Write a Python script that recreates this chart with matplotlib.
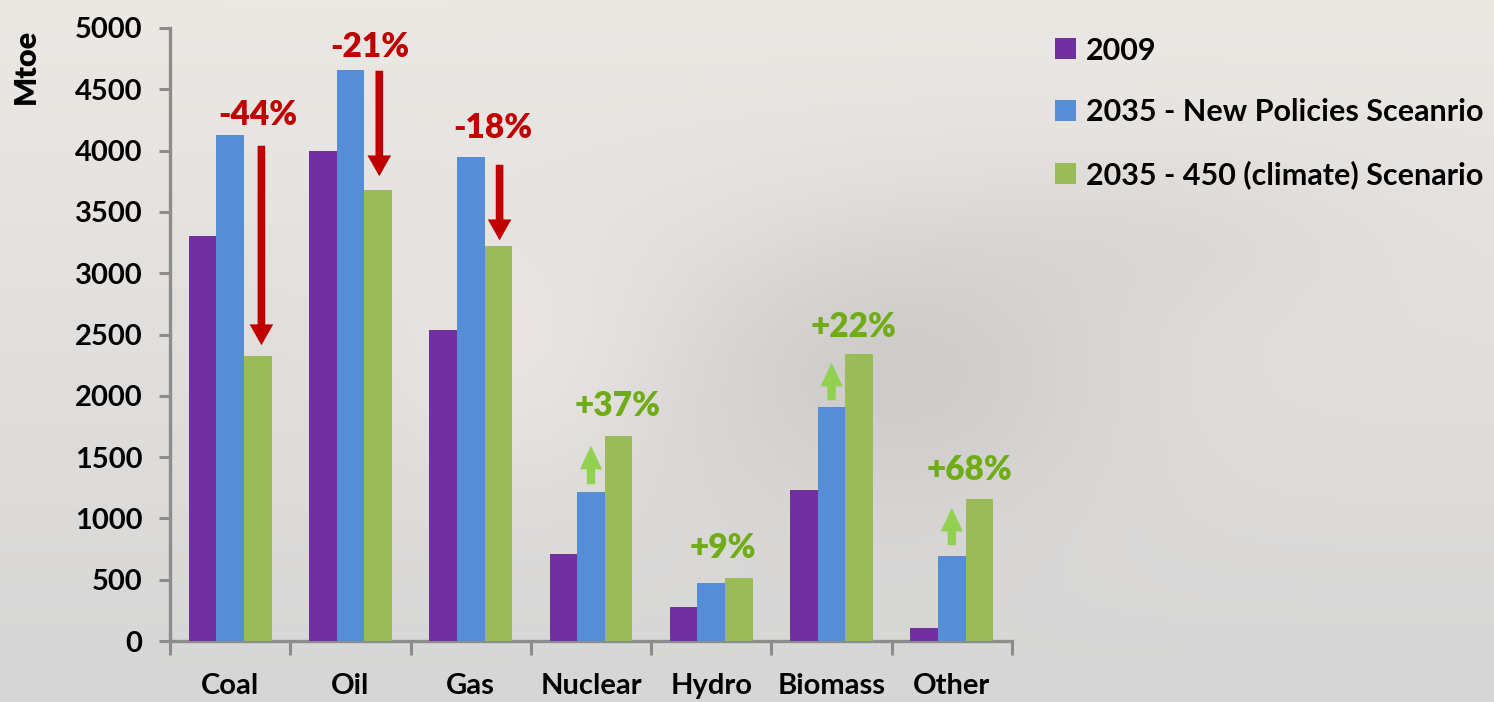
import numpy as np
import matplotlib
matplotlib.use("Agg")
import matplotlib.pyplot as plt
from matplotlib.patches import FancyArrowPatch, ArrowStyle

# --- data -----------------------------------------------------------------
categories = ["Coal", "Oil", "Gas", "Nuclear", "Hydro", "Biomass", "Other"]
series_names = ["2009", "2035 - New Policies Sceanrio", "2035 - 450 (climate) Scenario"]
demand_2009 = [3303, 3997, 2537, 710, 277, 1232, 106]
demand_2035_nps = [4127, 4657, 3948, 1215, 473, 1909, 690]
demand_2035_450 = [2325, 3679, 3222, 1672, 515, 2341, 1160]
change_labels = ["-44%", "-21%", "-18%", "+37%", "+9%", "+22%", "+68%"]
y_ticks = [0, 500, 1000, 1500, 2000, 2500, 3000, 3500, 4000, 4500, 5000]

# --- styling --------------------------------------------------------------
FONT = "Lato"
plt.rcParams["font.family"] = [FONT, "DejaVu Sans"]
plt.rcParams["font.weight"] = "bold"
colors = ["#7030a0", "#558ed5", "#9bbb59"]
RED = "#c00000"
GREEN_TXT = "#6fac16"
GREEN_ARROW = "#92d050"
AXIS_GREY = "#8c8c8c"

W, H, DPI = 1494, 702, 100
fig = plt.figure(figsize=(W / DPI, H / DPI), dpi=DPI)

# soft photographic-looking backdrop
bg = fig.add_axes([0, 0, 1, 1], zorder=-10)
yy, xx = np.mgrid[0:H, 0:W]
t = yy / H
base = np.empty((H, W, 3))
top = np.array([236, 232, 228]) / 255
bot = np.array([214, 214, 214]) / 255
for c in range(3):
    base[..., c] = top[c] * (1 - t) + bot[c] * t
blob = np.exp(-(((xx - 900) / 210) ** 2 + ((yy - 360) / 150) ** 2))
blob2 = np.exp(-(((xx - 1180) / 220) ** 2 + ((yy - 230) / 90) ** 2))
light = np.exp(-(((xx - 520) / 120) ** 2 + ((yy - 360) / 120) ** 2))
shade = 0.07 * blob + 0.03 * blob2 - 0.025 * light
img = np.clip(base - shade[..., None], 0, 1)
img[..., 0] = np.clip(img[..., 0] + 0.01 * light, 0, 1)
bg.imshow(img, aspect="auto", extent=[0, W, H, 0])
bg.axis("off")

ax = fig.add_axes([170 / W, 1 - 641 / H, (1012 - 170) / W, (641 - 28) / H])
ax.patch.set_alpha(0)

x = np.arange(len(categories))
bw = 0.23
for i, (vals, col, name) in enumerate(zip([demand_2009, demand_2035_nps, demand_2035_450], colors, series_names)):
    ax.bar(x + (i - 1) * bw, vals, width=bw, color=col, label=name, zorder=3)

ax.set_xlim(-0.5, len(categories) - 0.5)
ax.set_ylim(0, 5000)
ax.set_yticks(y_ticks)
ax.set_yticklabels([str(v) for v in y_ticks], fontsize=21, fontweight="bold")
ax.set_xticks(x)
ax.set_xticklabels(categories, fontsize=21, fontweight="bold")
ax.set_xticks(np.arange(-0.5, len(categories)), minor=True)
ax.tick_params(axis="x", which="major", length=0, pad=23)
ax.tick_params(axis="x", which="minor", length=10, width=2.2, color=AXIS_GREY, direction="out")
ax.tick_params(axis="y", length=8, width=2.2, color=AXIS_GREY, direction="out", pad=12)
for s in ["top", "right"]:
    ax.spines[s].set_visible(False)
for s in ["left", "bottom"]:
    ax.spines[s].set_color(AXIS_GREY)
    ax.spines[s].set_linewidth(2.4)

# percentage change annotations
label_pos = [(0.23, 4290), (1.16, 4845), (2.18, 4184), (3.22, 1917), (4.10, 759), (5.18, 2561), (6.15, 1395)]
for lab, (lx, ly) in zip(change_labels, label_pos):
    col = RED if lab.startswith("-") else GREEN_TXT
    ax.text(lx, ly, lab, color=col, fontsize=24, fontweight="heavy", ha="center", va="center", zorder=5)

# down arrows: from New Policies level towards 450 level
down = [(0, 0.26, 4062, 2390), (1, 0.24, 4674, 3768), (2, 0.24, 3907, 3246)]
red_style = ArrowStyle.Simple(head_length=1.5, head_width=1.7, tail_width=0.55)
for ci, off, y0, y1 in down:
    ax.add_patch(FancyArrowPatch((ci + off, y0), (ci + off, y1), arrowstyle=red_style,
                                 mutation_scale=10, color=RED, lw=0, zorder=4))

# up arrows above the New Policies bars
up = [(3, 0.0, 1256, 1615), (5, 0.0, 1941, 2292), (6, 0.0, 759, 1109)]
green_style = ArrowStyle.Simple(head_length=1.7, head_width=1.6, tail_width=0.6)
for ci, off, y0, y1 in up:
    ax.add_patch(FancyArrowPatch((ci + off, y0), (ci + off, y1), arrowstyle=green_style,
                                 mutation_scale=10, color=GREEN_ARROW, lw=0, zorder=4))

fig.text(25.5 / W, 1 - 66 / H, "Mtoe", rotation=90, fontsize=22, fontweight="heavy", ha="center", va="center")

fig.legend(loc="upper left", bbox_to_anchor=(1027 / W, 1 - 9 / H), frameon=False,
           handlelength=0.69, handleheight=0.69, handletextpad=0.33,
           labelspacing=1.11, prop={"family": FONT, "weight": "bold", "size": 22})

fig.savefig("out.png", dpi=DPI)
